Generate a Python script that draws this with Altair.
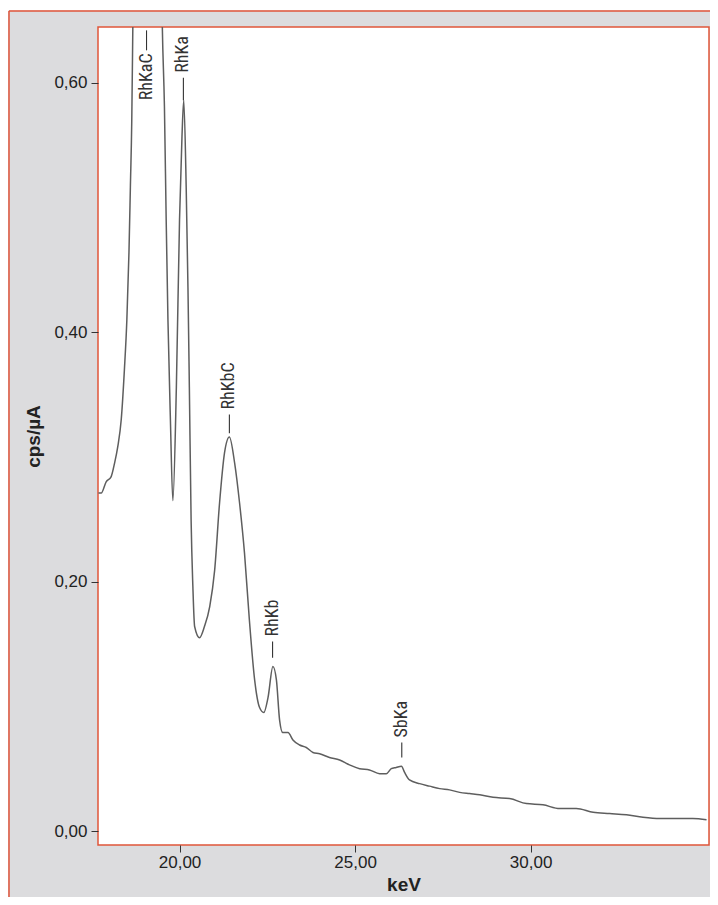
import altair as alt
import pandas as pd

# ---- spectrum ----
kev = [17.69, 17.77, 17.91, 18.05, 18.15, 18.24, 18.34, 18.43, 18.50, 18.56,
       18.60, 18.64, 18.67, 18.73, 19.09, 19.44, 19.51, 19.57, 19.62, 19.67,
       19.74, 19.81, 19.91, 20.00, 20.07, 20.12, 20.19, 20.24, 20.28, 20.33,
       20.38, 20.43, 20.57, 20.71, 20.86, 21.00, 21.14, 21.28, 21.42, 21.57,
       21.71, 21.85, 21.99, 22.14, 22.28, 22.40, 22.52, 22.66, 22.76, 22.85,
       22.94, 23.09, 23.23, 23.42, 23.61, 23.80, 23.99, 24.27, 24.56, 24.84,
       25.13, 25.41, 25.70, 25.89, 26.03, 26.17, 26.32, 26.41, 26.55, 26.84,
       27.12, 27.41, 27.69, 27.98, 28.26, 28.55, 28.93, 29.40, 29.88, 30.35,
       30.83, 31.30, 31.78, 32.25, 32.73, 33.20, 33.68, 34.15, 34.62, 35.01]
cps = [0.271, 0.271, 0.280, 0.284, 0.295, 0.308, 0.330, 0.370, 0.410, 0.464,
       0.516, 0.570, 0.645, 0.800, 1.400, 0.800, 0.645, 0.581, 0.490, 0.410,
       0.330, 0.265, 0.356, 0.490, 0.557, 0.586, 0.516, 0.436, 0.356, 0.249,
       0.196, 0.164, 0.155, 0.164, 0.180, 0.209, 0.263, 0.303, 0.316, 0.295,
       0.263, 0.223, 0.169, 0.121, 0.099, 0.095, 0.107, 0.132, 0.121, 0.089,
       0.079, 0.079, 0.073, 0.069, 0.067, 0.063, 0.062, 0.059, 0.057, 0.053,
       0.050, 0.049, 0.046, 0.046, 0.050, 0.051, 0.052, 0.047, 0.041, 0.038,
       0.036, 0.034, 0.033, 0.031, 0.030, 0.029, 0.027, 0.026, 0.022, 0.021,
       0.018, 0.018, 0.015, 0.014, 0.013, 0.011, 0.010, 0.010, 0.010, 0.009]

# ---- peak labels (text start and the short marker dash beside each) ----
label_names = ["RhKaC", "RhKa", "RhKbC", "RhKb", "SbKa"]
label_kev = [19.06, 20.11, 21.42, 22.65, 26.33]
label_start = [0.586, 0.608, 0.338, 0.156, 0.075]
dash_lo = [0.626, 0.586, 0.319, 0.139, 0.059]
dash_hi = [0.642, 0.604, 0.334, 0.152, 0.071]

x_ticks = [20, 25, 30]
y_ticks = [0.0, 0.2, 0.4, 0.6]

ORANGE = "#e0553a"
GRAY_BG = "#dcdcde"
LINE = "#5e5e5e"
TXT = "#333333"

spec = pd.DataFrame({"kev": kev, "cps": cps})
labels = pd.DataFrame({"kev": label_kev, "cps": label_start, "label": label_names})
dash = pd.DataFrame({"kev": label_kev, "cps": dash_lo, "cps2": dash_hi})

fmt = "replace(format(datum.value, '.2f'), '.', ',')"

xscale = alt.Scale(domain=[17.678, 35.08], nice=False, zero=False)
yscale = alt.Scale(domain=[-0.0112, 0.6447], nice=False, zero=False)

one = alt.Data(values=[{}])

top_white = alt.Chart(one).mark_rect(color="white").encode(
    x=alt.value(-90), x2=alt.value(612), y=alt.value(-19), y2=alt.value(-16.5))
top_rule = alt.Chart(one).mark_rule(color=ORANGE, strokeWidth=1.5).encode(
    x=alt.value(-89), x2=alt.value(612), y=alt.value(-16))
left_rule = alt.Chart(one).mark_rule(color=ORANGE, strokeWidth=1.5).encode(
    x=alt.value(-89), y=alt.value(-16), y2=alt.value(880))

line = alt.Chart(spec).mark_line(color=LINE, strokeWidth=1.5, clip=True,
                                 interpolate="monotone").encode(
    x=alt.X("kev:Q", scale=xscale,
            axis=alt.Axis(values=x_ticks, labelExpr=fmt, title="keV",
                          labelPadding=2, titleX=305.5, titleY=45,
                          titleBaseline="alphabetic", titleAlign="center")),
    y=alt.Y("cps:Q", scale=yscale,
            axis=alt.Axis(values=y_ticks, labelExpr=fmt, title="cps/µA",
                          labelPadding=4, titleX=-64.5, titleY=409,
                          titleAngle=270, titleBaseline="middle",
                          titleAlign="center")),
)

dash_rule = alt.Chart(dash).mark_rule(color=TXT, strokeWidth=1.1).encode(
    x="kev:Q", y="cps:Q", y2="cps2:Q")

text = alt.Chart(labels).mark_text(
    angle=270, align="left", baseline="middle",
    font="Liberation Sans Narrow, Roboto Condensed, Roboto, sans-serif",
    fontSize=18, color=TXT,
).encode(x="kev:Q", y="cps:Q", text="label:N")

chart = alt.layer(top_white, top_rule, left_rule, line, dash_rule, text).properties(
    width=611, height=818,
    padding={"left": 90, "top": 19, "right": 1, "bottom": 52},
    autosize=alt.AutoSizeParams(type="none"),
    background=GRAY_BG,
).configure_view(
    stroke=ORANGE, strokeWidth=1.5, fill="white"
).configure_axis(
    domain=False, grid=False, tickColor="#333333", tickSize=7, tickWidth=1,
    labelFont="Liberation Sans", labelFontSize=17, labelColor="#222222",
    titleFont="Liberation Sans", titleFontSize=19, titleFontWeight="bold",
    titleColor="#222222",
)

chart.save("out.html", embed_options={"renderer": "svg", "actions": False})
